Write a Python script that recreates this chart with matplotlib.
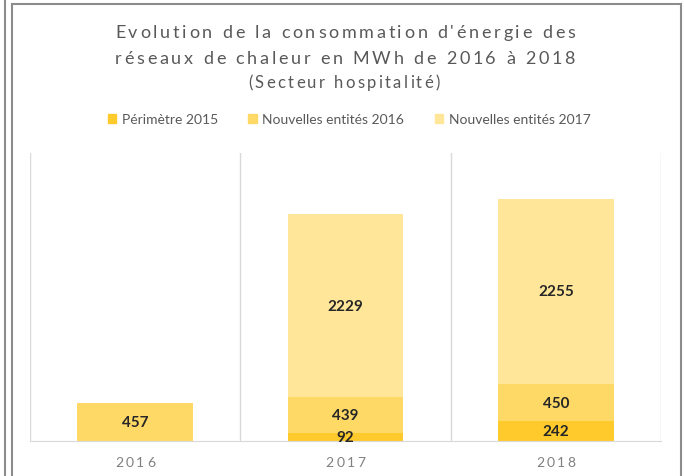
import matplotlib
matplotlib.use("Agg")
import matplotlib.pyplot as plt
from matplotlib.lines import Line2D
from matplotlib.patches import Patch
from matplotlib.font_manager import FontProperties
from matplotlib.transforms import IdentityTransform

# -------------------------------------------------------
# DATA
# -------------------------------------------------------
years = ["2016", "2017", "2018"]
perimetre_2015 = [0, 92, 242]
entites_2016 = [457, 439, 450]
entites_2017 = [0, 2229, 2255]
series_names = ["Périmètre 2015", "Nouvelles entités 2016", "Nouvelles entités 2017"]
series_colors = ["#FFCA2C", "#FFD966", "#FFE699"]

title_lines = ["Evolution de la consommation d'énergie des",
               "réseaux de chaleur en MWh de 2016 à 2018"]
subtitle = "(Secteur hospitalité)"

FONT = "Lato"
W, H = 684, 477

fig = plt.figure(figsize=(W / 100, H / 100), dpi=100)
ax = fig.add_axes([30 / W, 35 / H, 631 / W, 288 / H])
renderer = fig.canvas.get_renderer()


# Excel draws the title with letter spacing, so place characters one by one
def spaced_text(s, cx, baseline, size, color, spacing):
    prop = FontProperties(family=FONT, size=size)
    widths = [0.0] + [renderer.get_text_width_height_descent(s[:i], prop, ismath=False)[0]
                      for i in range(1, len(s) + 1)]
    total = widths[-1] + spacing * (len(s) - 1)
    x0 = cx - total / 2
    for i, ch in enumerate(s):
        if ch == " ":
            continue
        fig.text(x0 + widths[i] + i * spacing, H - baseline, ch, fontproperties=prop,
                 color=color, ha="left", va="baseline", transform=IdentityTransform())


# -- stacked bars --
x = range(len(years))
bottom = [0] * len(years)
for vals, name, col in zip([perimetre_2015, entites_2016, entites_2017], series_names, series_colors):
    bars = ax.bar(x, vals, width=0.55, bottom=bottom, color=col, label=name)
    labels = [str(v) if v else "" for v in vals]
    ax.bar_label(bars, labels=labels, label_type="center", fontsize=11, fontweight="bold",
                 color="#262626", family=FONT)
    bottom = [b + v for b, v in zip(bottom, vals)]

ax.set_xlim(-0.5, 2.5)
ax.set_ylim(0, 3500)
for xv in [-0.5, 0.5, 1.5, 2.5]:
    ax.axvline(xv, color="#D9D9D9", lw=1, zorder=0)
for s in ["top", "left", "right"]:
    ax.spines[s].set_visible(False)
ax.spines["bottom"].set_color("#D9D9D9")
ax.set_xticks([])
ax.set_yticks([])

# category labels
for i, y in enumerate(years):
    cx = ax.transData.transform((i, 0))[0]
    spaced_text(y, cx, 467, 10, "#808080", 2.5)

# title
spaced_text(title_lines[0], 345, 38, 13, "#595959", 2.75)
spaced_text(title_lines[1], 345, 64, 13, "#595959", 2.75)
spaced_text(subtitle, 344, 88, 12, "#595959", 2.35)

# legend
handles = [Patch(color=c, label=n) for c, n in zip(series_colors, series_names)]
fig.legend(handles=handles, loc="center", bbox_to_anchor=(349 / W, 1 - 120 / H), ncol=3,
           frameon=False, handlelength=0.6, handleheight=0.6, handletextpad=0.4,
           columnspacing=2.2, prop=FontProperties(family=FONT, size=10), labelcolor="#595959")

# chart frame lines
frame = "#8C8C8C"
fig.add_artist(Line2D([4.5, 4.5], [0, H], transform=IdentityTransform(), color=frame, lw=1.5))
fig.add_artist(Line2D([11.5, 11.5], [0, H - 4.5], transform=IdentityTransform(), color=frame, lw=1.5))
fig.add_artist(Line2D([11.5, 680.5], [H - 4.5, H - 4.5], transform=IdentityTransform(), color=frame, lw=1.5))
fig.add_artist(Line2D([680.5, 680.5], [0, H - 4.5], transform=IdentityTransform(), color=frame, lw=1.5))

fig.savefig("out.png", dpi=100)
